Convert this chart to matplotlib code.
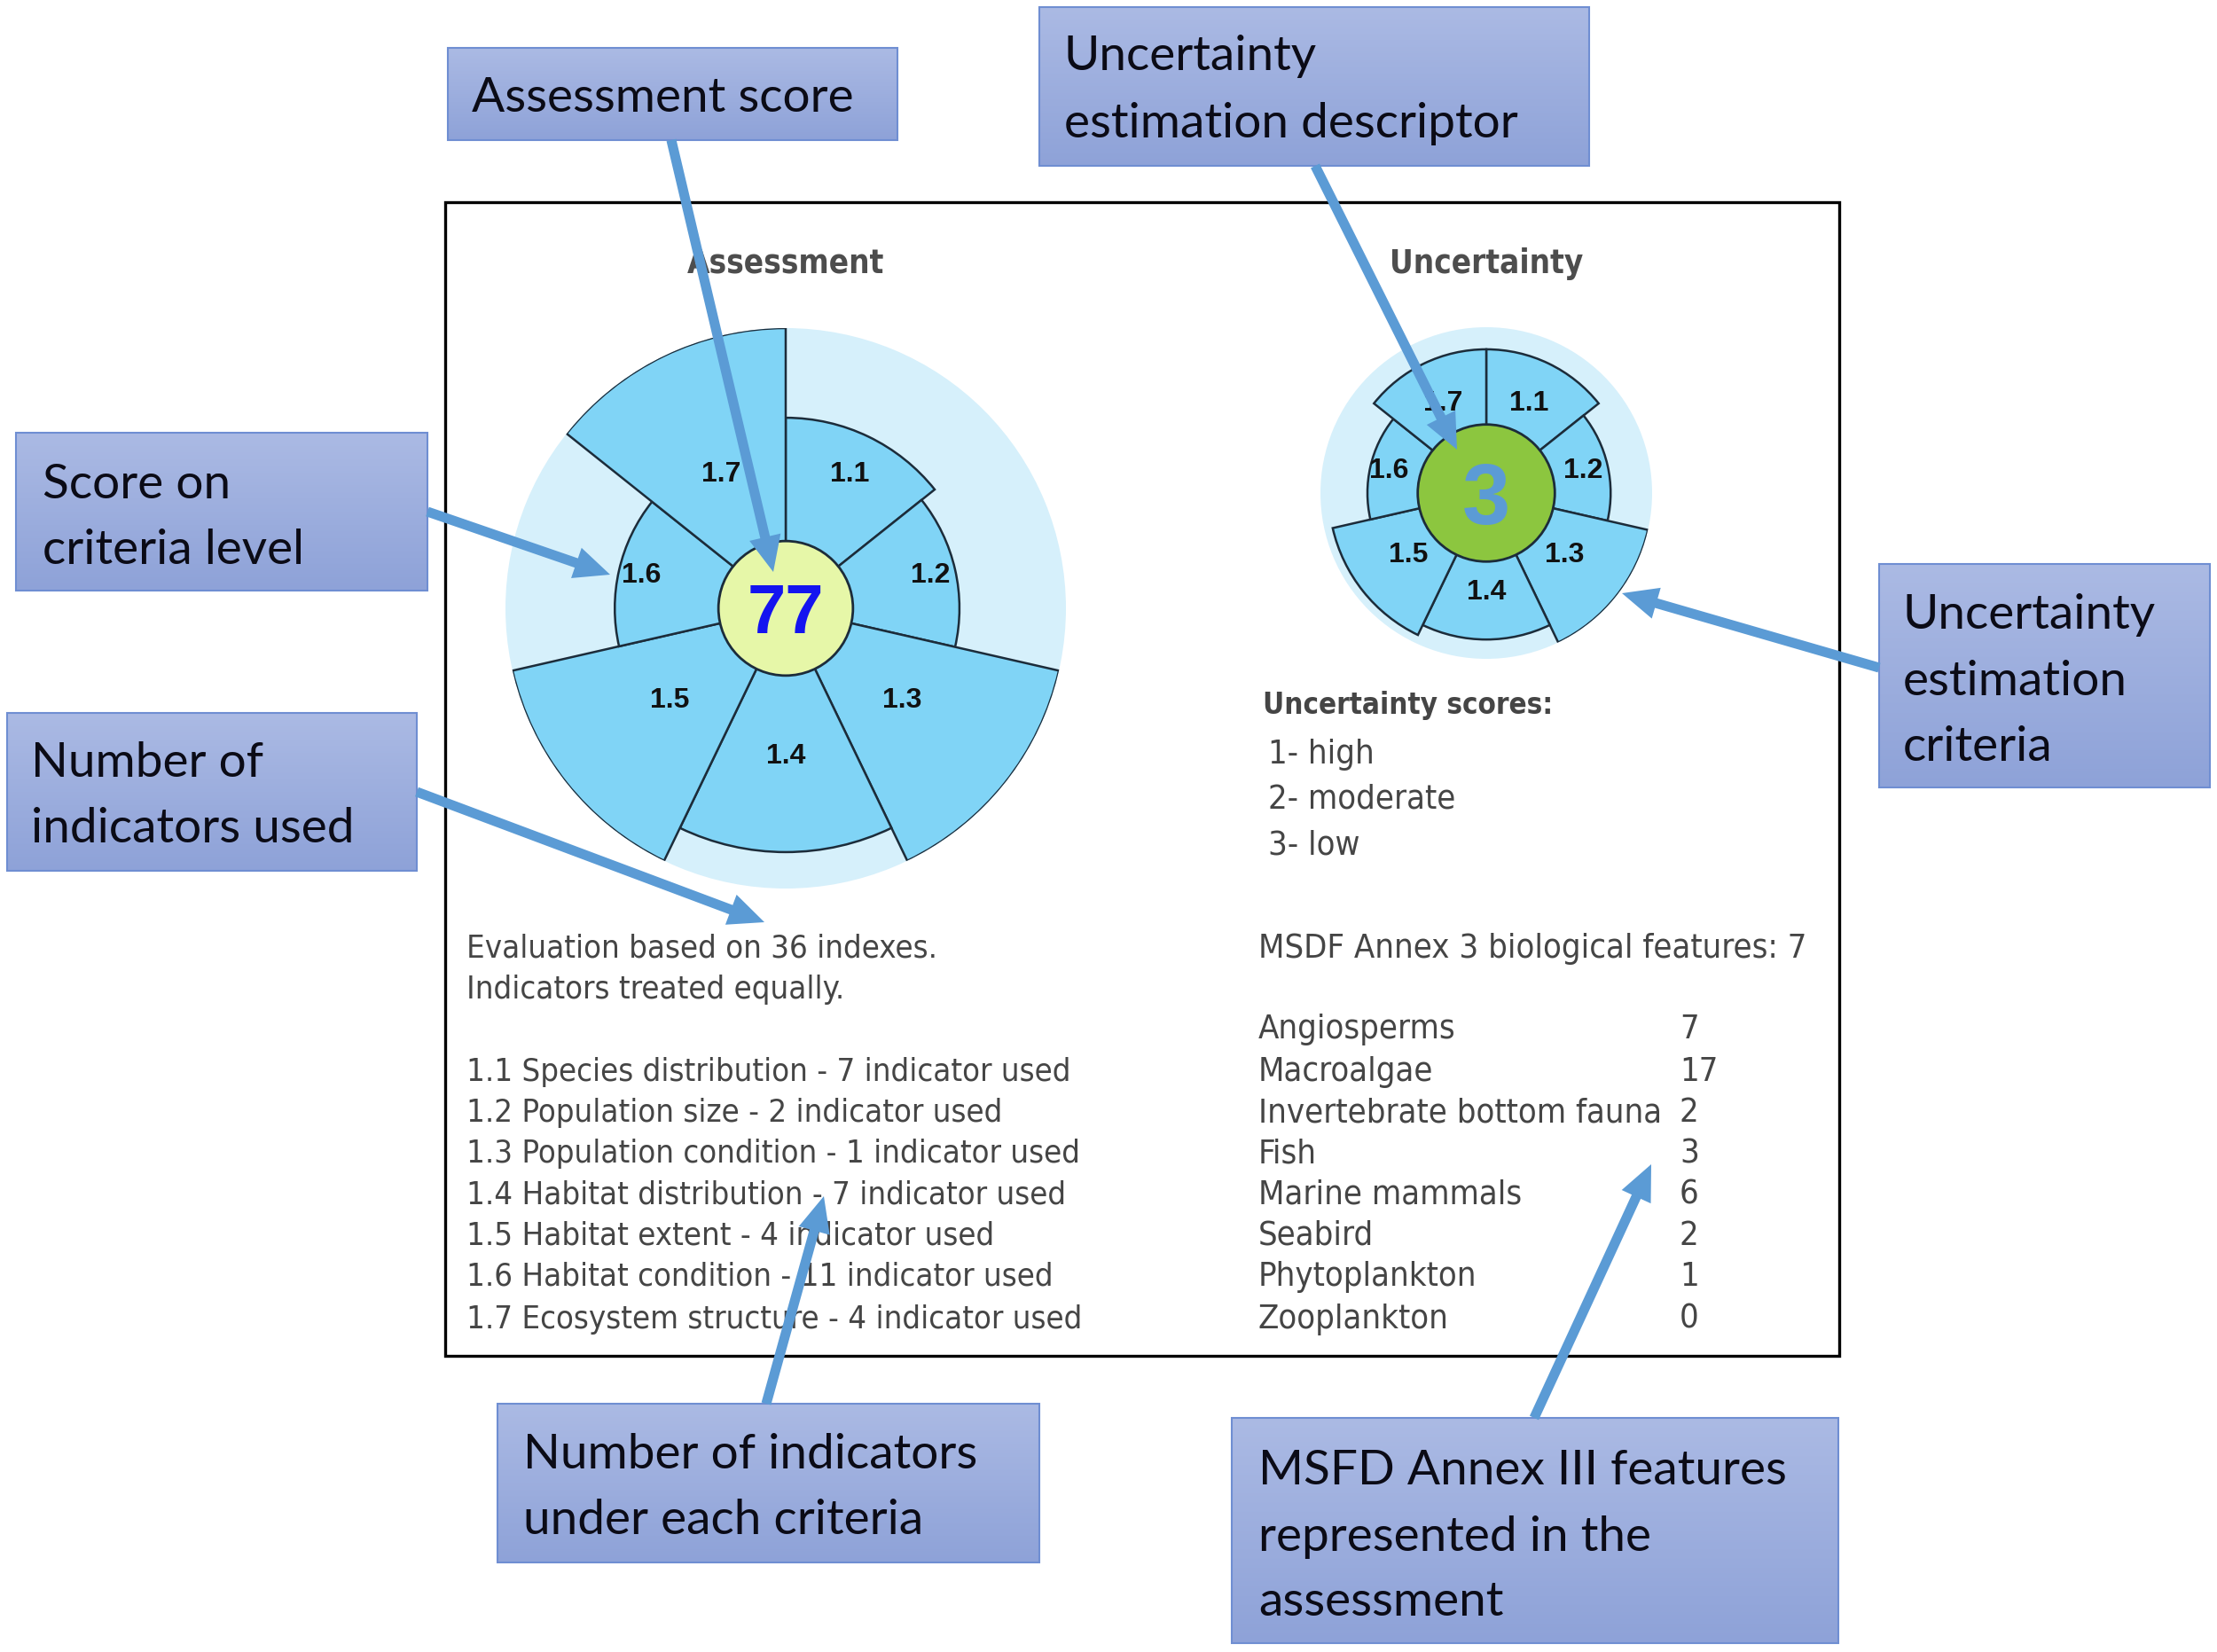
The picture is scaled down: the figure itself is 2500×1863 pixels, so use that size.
import matplotlib
matplotlib.use('Agg')
import matplotlib.pyplot as plt
import numpy as np
from matplotlib.patches import Rectangle, Circle, FancyArrowPatch
from matplotlib.colors import LinearSegmentedColormap

# ---------------- data ----------------
criteria = ['1.1', '1.2', '1.3', '1.4', '1.5', '1.6', '1.7']
criteria_names = ['Species distribution', 'Population size', 'Population condition',
                  'Habitat distribution', 'Habitat extent', 'Habitat condition',
                  'Ecosystem structure']
indicators_used = [7, 2, 1, 7, 4, 11, 4]
assessment_scores = [68, 62, 100, 87, 100, 61, 100]
assessment_total = 77
uncertainty_scores = [2.6, 2.25, 3.0, 2.65, 2.85, 2.15, 2.6]
uncertainty_total = 3
n_indexes = 36
uncertainty_levels = ['1- high', '2- moderate', '3- low']
features = ['Angiosperms', 'Macroalgae', 'Invertebrate bottom fauna', 'Fish',
            'Marine mammals', 'Seabird', 'Phytoplankton', 'Zooplankton']
feature_counts = [7, 17, 2, 3, 6, 2, 1, 0]
n_features = 7

callout_texts = [
    ['Assessment score'],
    ['Uncertainty', 'estimation descriptor'],
    ['Score on', 'criteria level'],
    ['Number of', 'indicators used'],
    ['Uncertainty', 'estimation', 'criteria'],
    ['Number of indicators', 'under each criteria'],
    ['MSFD Annex III features', 'represented in the', 'assessment'],
]

# ---------------- layout / style ----------------
W, H, DPI = 2500, 1863, 100
SECTOR = '#80D4F6'
LIGHT = '#D6F0FB'
EDGE = '#1c2c3a'
ARROW = '#5B9BD5'
TXT = '#454545'
BODY_FONT = dict(family='DejaVu Sans', fontstretch='condensed')
CALL_FONT = 'Lato'
LABEL_FONT = 'Liberation Sans'

callout_layout = [
    # box (x0, y0, x1, y1), text x, line y centres
    ((505, 54, 1012, 158), 532, [111]),
    ((1172, 8, 1792, 187), 1200, [64, 139]),
    ((18, 488, 482, 666), 48, [547, 620]),
    ((8, 804, 470, 982), 35, [861, 935]),
    ((2119, 636, 2492, 888), 2146, [694, 769, 842]),
    ((561, 1583, 1172, 1762), 590, [1641, 1714]),
    ((1389, 1599, 2073, 1853), 1419, [1658, 1733, 1807]),
]
arrows = [
    ((757, 158), (872, 645)),
    ((1483, 187), (1643, 507)),
    ((482, 577), (688, 648)),
    ((470, 893), (862, 1040)),
    ((2119, 753), (1829, 669)),
    ((864, 1583), (929, 1349)),
    ((1730, 1599), (1862, 1313)),
]

fig = plt.figure(figsize=(W / DPI, H / DPI), dpi=DPI)
fig.patch.set_facecolor('white')
renderer = fig.canvas.get_renderer()


def fit_size(s, target_px, base=20, **kw):
    t = fig.text(0, 0, s, fontsize=base, **kw)
    w = t.get_window_extent(renderer).width
    t.remove()
    return base * target_px / w


# ---------------- polar panels ----------------
def polar_panel(cx, cy, R, values, rmax, center_r, center_color, label_r,
                ctext, ctext_color, ctext_size):
    axp = fig.add_axes([(cx - R) / W, 1 - (cy + R) / H, 2 * R / W, 2 * R / H],
                       projection='polar', zorder=1)
    axp.set_theta_zero_location('N')
    axp.set_theta_direction(-1)
    n = len(values)
    width = 2 * np.pi / n
    theta = np.arange(n) * width + width / 2
    axp.bar(theta, values, width=width, bottom=0, color=SECTOR,
            edgecolor=EDGE, linewidth=1.8, zorder=2)
    axp.set_ylim(0, rmax)
    axp.set_facecolor(LIGHT)
    axp.set_xticks([])
    axp.set_yticks([])
    axp.grid(False)
    axp.spines['polar'].set_visible(False)
    axp.add_patch(Circle((0.5, 0.5), 0.5 * center_r / rmax, transform=axp.transAxes,
                         facecolor=center_color, edgecolor=EDGE, lw=2.0, zorder=3))
    for th, lab in zip(theta, criteria):
        axp.text(th, label_r, lab, ha='center', va='center', fontsize=23,
                 fontweight='bold', family=LABEL_FONT, color='#111111', zorder=4)
    axp.text(0.5, 0.5, str(ctext), transform=axp.transAxes, ha='center',
             va='center_baseline', fontsize=ctext_size, fontweight='bold',
             family=LABEL_FONT, color=ctext_color, zorder=5)
    return axp


polar_panel(886, 686, 316, assessment_scores, 100, 24, '#E6F7A8', 53,
            assessment_total, '#1414F0', 56)
polar_panel(1676, 556, 187, uncertainty_scores, 3.0, 1.24, '#8CC63F', 1.8,
            uncertainty_total, '#5B9BD5', 70)

# ---------------- overlay axes (pixel coords) ----------------
ax = fig.add_axes([0, 0, 1, 1], zorder=5)
ax.patch.set_alpha(0)
ax.set_xlim(0, W)
ax.set_ylim(H, 0)
ax.axis('off')

# frame
ax.add_patch(Rectangle((502, 228), 1572, 1301, fill=False, ec='black', lw=2.4, zorder=1))

# titles
s_title = fit_size('Assessment', 222, fontweight='bold', **BODY_FONT)
ax.text(886, 297, 'Assessment', ha='center', va='center', fontsize=s_title,
        fontweight='bold', color='#4d4d4d', zorder=2, **BODY_FONT)
ax.text(1676, 297, 'Uncertainty', ha='center', va='center', fontsize=s_title,
        fontweight='bold', color='#4d4d4d', zorder=2, **BODY_FONT)

# left text block
s_body = fit_size('1.3 Population condition - 1 indicator used', 692, **BODY_FONT)
ax.text(526, 1070, f'Evaluation based on {n_indexes} indexes.', ha='left', va='center',
        fontsize=s_body, color=TXT, zorder=2, **BODY_FONT)
ax.text(526, 1116, 'Indicators treated equally.', ha='left', va='center',
        fontsize=s_body, color=TXT, zorder=2, **BODY_FONT)
list_y = [1209, 1255, 1301, 1348, 1394, 1440, 1488]
for y, c, nm, k in zip(list_y, criteria, criteria_names, indicators_used):
    ax.text(526, y, f'{c} {nm} - {k} indicator used', ha='left', va='center',
            fontsize=s_body, color=TXT, zorder=2, **BODY_FONT)

# right text block
s_us = fit_size('Uncertainty scores:', 327, fontweight='bold', **BODY_FONT)
ax.text(1424, 795, 'Uncertainty scores:', ha='left', va='center', fontsize=s_us,
        fontweight='bold', color=TXT, zorder=2, **BODY_FONT)
s_right = fit_size(f'MSDF Annex 3 biological features: {n_features}', 617, **BODY_FONT)
for y, s in zip([851, 902, 953], uncertainty_levels):
    ax.text(1430, y, s, ha='left', va='center', fontsize=s_right, color=TXT,
            zorder=2, **BODY_FONT)
ax.text(1419, 1070, f'MSDF Annex 3 biological features: {n_features}', ha='left',
        va='center', fontsize=s_right, color=TXT, zorder=2, **BODY_FONT)
feat_y = [1161, 1209, 1255, 1301, 1348, 1394, 1440, 1488]
for y, f, v in zip(feat_y, features, feature_counts):
    ax.text(1419, y, f, ha='left', va='center', fontsize=s_right, color=TXT,
            zorder=2, **BODY_FONT)
    ax.text(1894, y, str(v), ha='left', va='center', fontsize=s_right, color=TXT,
            zorder=2, **BODY_FONT)

# callout boxes
grad_cmap = LinearSegmentedColormap.from_list('g', ['#ABBAE4', '#8EA2D8'])
grad = np.linspace(0, 1, 256).reshape(-1, 1)
s_call = fit_size('MSFD Annex III features', 598, family=CALL_FONT)
for lines, ((x0, y0, x1, y1), tx, ys) in zip(callout_texts, callout_layout):
    ax.imshow(grad, extent=(x0, x1, y1, y0), cmap=grad_cmap, aspect='auto',
              interpolation='bilinear', zorder=3)
    ax.add_patch(Rectangle((x0, y0), x1 - x0, y1 - y0, fill=False,
                           ec='#6F8ED2', lw=1.5, zorder=4))
    for s, y in zip(lines, ys):
        ax.text(tx, y, s, ha='left', va='center', fontsize=s_call,
                family=CALL_FONT, color='#0b0b16', zorder=5)

# arrows
for (p0, p1) in arrows:
    ax.add_patch(FancyArrowPatch(p0, p1,
                                 arrowstyle='simple,head_length=1.45,head_width=1.3,tail_width=0.4',
                                 mutation_scale=20, lw=0, color=ARROW,
                                 shrinkA=0, shrinkB=0, zorder=8))

ax.set_xlim(0, W)
ax.set_ylim(H, 0)
fig.savefig('out.png', dpi=DPI, facecolor='white')
